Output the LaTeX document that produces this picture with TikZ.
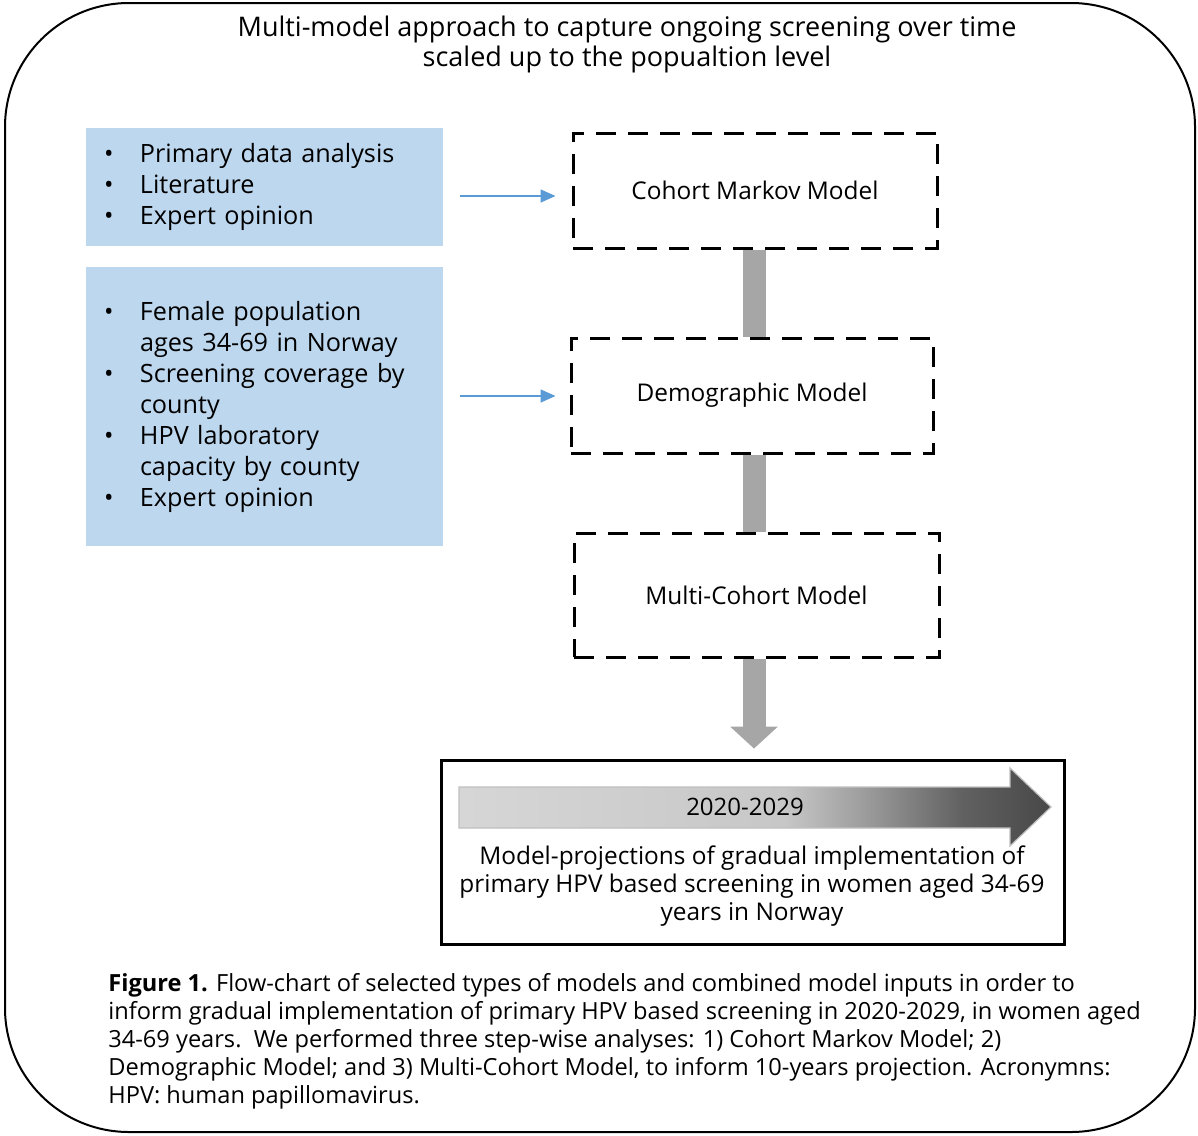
\documentclass[tikz,border=0pt]{standalone}
\usepackage{fontspec}
\setmainfont{Open Sans}
\usetikzlibrary{positioning, arrows.meta}
\definecolor{inputblue}{HTML}{BDD7EE}
\definecolor{arrowblue}{HTML}{5B9BD5}
\definecolor{linkgray}{HTML}{A6A6A6}
\pgfdeclarehorizontalshading{yeargrad}{100bp}{color(0bp)=(black!16); color(25bp)=(black!16); color(52.5bp)=(black!22); color(59bp)=(black!38); color(67.5bp)=(black!62); color(75bp)=(black!72); color(100bp)=(black!72)}
\newcommand{\bul}{\makebox[18pt][l]{\textbullet}}
\newcommand{\cont}{\hspace*{18pt}}
\tikzset{
  % input boxes on the left
  inbox/.style={fill=inputblue, align=left, inner xsep=9pt, text width=160.5pt,
    minimum width=178.5pt, font=\fontsize{12.6}{15.5}\selectfont},
  model/.style={draw, line width=1.5pt, dash pattern=on 10pt off 6pt,
    font=\fontsize{12.2}{14}\selectfont},
  inarrow/.style={arrowblue, line width=0.8pt, -{Triangle[length=7.5pt,width=6.5pt]}},
  link/.style={linkgray, line width=11.5pt},
  semithick
}

\begin{document}
\begin{tikzpicture}[x=0.5pt, y=-0.5pt]
      \useasboundingbox (0,0) rectangle (1198,1135);
      \node[draw, line width=1pt, rounded corners=62pt, minimum width=595pt,
            minimum height=564.5pt] (frame) at (600,567.5) {};
      \node[align=center, font=\fontsize{13.5}{15}\selectfont] (title) at (627,44)
            {Multi-model approach to capture ongoing screening over time\\
             scaled up to the popualtion level};

      \node[inbox, minimum height=59pt] (data) at (264.5,187)
            {\bul Primary data analysis\\ \bul Literature\\ \bul Expert opinion};
      \node[inbox, minimum height=139.5pt] (popdata) at (264.5,406.5)
            {\bul Female population\\ \cont ages 34-69 in Norway\\
             \bul Screening coverage by\\ \cont county\\
             \bul HPV laboratory\\ \cont capacity by county\\
             \bul Expert opinion};

      \node[model, minimum width=182pt, minimum height=57.5pt] (markov) at (755,190.5) {Cohort Markov Model};
      \node[model, minimum width=181pt, minimum height=57.5pt] (demog) at (752,395.5) {Demographic Model};
      \node[model, minimum width=182.5pt, minimum height=62pt] (multi) at (756.5,595) {Multi-Cohort Model};
      \node[draw, line width=1.5pt, minimum width=311.5pt, minimum height=92pt] (proj) at (752.5,852) {};

      \coordinate (in1) at (460,196);
      \coordinate (in2) at (460,396);
      \coordinate (axis) at (754,0);
      \draw[inarrow, shorten >=8pt] (in1) -- (in1 -| markov.west);
      \draw[inarrow, shorten >=7pt] (in2) -- (in2 -| demog.west);

      \draw[link] (markov.south -| axis) -- (demog.north -| axis);
      \draw[link] (demog.south -| axis) -- (multi.north -| axis);
      \draw[link, -{Triangle[length=11pt,width=24pt,line width=0pt]}, shorten >=5pt]
            (multi.south -| axis) -- (proj.north -| axis);

      % time arrow
      \shade[shading=yeargrad, draw=black!25, line width=0.6pt]
            (459,787) -- (1010,787) -- (1010,768) -- (1051,807) -- (1010,846)
            -- (1010,828) -- (459,828) -- cycle;
      \node[font=\fontsize{12}{14}\selectfont] (years) at (745,807) {2020-2029};
      \node[align=center, font=\fontsize{12.2}{14}\selectfont] (projtext) at (752,886)
            {Model-projections of gradual implementation of\\
             primary HPV based screening in women aged 34-69\\
             years in Norway};

      \node[anchor=north west, align=left, inner sep=0pt,
            font=\fontsize{11.8}{14}\selectfont] (caption) at (108,973)
            {\textbf{Figure 1.} Flow-chart of selected types of models and combined model inputs in order to\\
             inform gradual implementation of primary HPV based screening in 2020-2029, in women aged\\
             34-69 years.\ \ We performed three step-wise analyses: 1) Cohort Markov Model; 2)\\
             Demographic Model; and 3) Multi-Cohort Model, to inform 10-years projection. Acronymns:\\
             HPV: human papillomavirus.};
\end{tikzpicture}
\end{document}
